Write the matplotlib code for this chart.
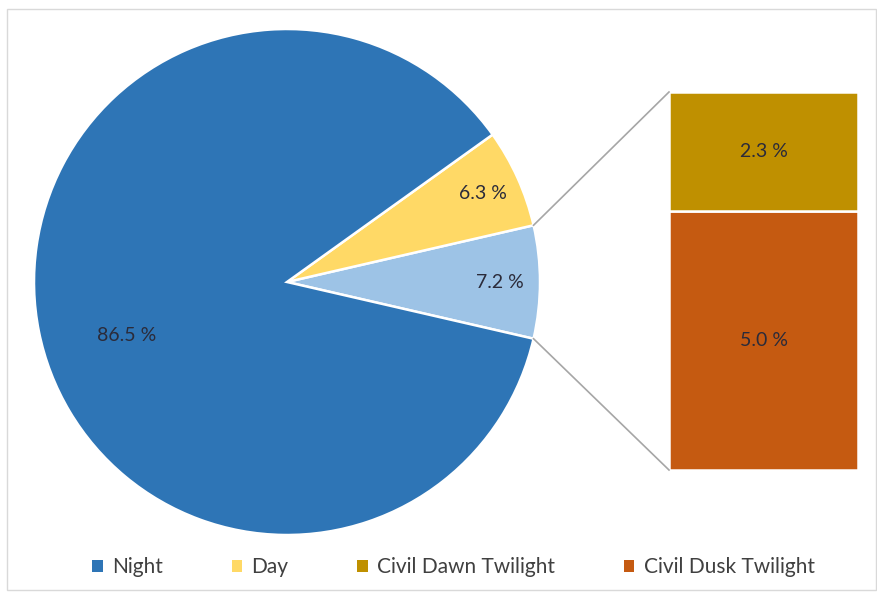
import numpy as np
import matplotlib
matplotlib.use("Agg")
import matplotlib.pyplot as plt
from matplotlib.patches import Rectangle, Patch

plt.rcParams['font.family'] = ['Lato', 'DejaVu Sans']

# Data
pie_labels = ["Civil Twilight", "Day", "Night"]
pie_values = [7.2, 6.3, 86.5]
bar_labels = ["Civil Dusk Twilight", "Civil Dawn Twilight"]
bar_values = [5.0, 2.3]
legend_labels = ["Night", "Day", "Civil Dawn Twilight", "Civil Dusk Twilight"]

c_night = "#2E75B6"
c_day = "#FFD966"
c_twi = "#9DC3E6"
c_dawn = "#BF9000"
c_dusk = "#C55A11"
txt_color = "#2b2b3a"

W, H = 877, 592
fig = plt.figure(figsize=(W / 100, H / 100), dpi=100)
ax = fig.add_axes([0, 0, 1, 1])

cx, cy, R = 287, H - 282, 253
start = -pie_values[0] / 100 * 360 / 2
wedges, _ = ax.pie(pie_values, colors=[c_twi, c_day, c_night], startangle=start,
                   counterclock=True, center=(cx, cy), radius=R, frame=True,
                   wedgeprops=dict(edgecolor="white", linewidth=1.8))
ax.set_xlim(0, W)
ax.set_ylim(0, H)
ax.set_aspect('equal')
ax.axis('off')

# pie labels
label_r = [0.84, 0.85, 0.666]
label_shift = [0, 0, 7]
for w, v, fr, sh in zip(wedges, pie_values, label_r, label_shift):
    ang = np.deg2rad((w.theta1 + w.theta2) / 2 + sh)
    ax.text(cx + fr * R * np.cos(ang), cy + fr * R * np.sin(ang), f"{v:.1f} %",
            ha='center', va='center', fontsize=14, color=txt_color)

# bar of twilight split
bx0, bx1 = 669, 858
by0, by1 = H - 470, H - 92
scale = (by1 - by0) / sum(bar_values)
bottom = by0
bar_colors = [c_dusk, c_dawn]
for v, c in zip(bar_values, bar_colors):
    h = v * scale
    ax.add_patch(Rectangle((bx0, bottom), bx1 - bx0, h, facecolor=c,
                           edgecolor="white", linewidth=1.8))
    ax.text((bx0 + bx1) / 2, bottom + h / 2, f"{v:.1f} %", ha='center', va='center',
            fontsize=14, color=txt_color)
    bottom += h

# connector lines
w0 = wedges[0]
for th, yb in [(w0.theta2, by1), (w0.theta1, by0)]:
    t = np.deg2rad(th)
    ax.plot([cx + R * np.cos(t), bx0], [cy + R * np.sin(t), yb],
            color="#a6a6a6", linewidth=1.2)

# frame
ax.add_patch(Rectangle((7, 2), W - 8, H - 11, fill=False, edgecolor="#d9d9d9",
                       linewidth=1.0))

# legend
handles = [Patch(facecolor=c) for c in [c_night, c_day, c_dawn, c_dusk]]
fig.legend(handles, legend_labels, loc='center', bbox_to_anchor=(0.517, 0.042),
           ncol=4, frameon=False, fontsize=15, handlelength=0.5, handleheight=0.5,
           handletextpad=0.45, columnspacing=3.3, labelcolor="#404040")

fig.savefig("out.png", dpi=100)
